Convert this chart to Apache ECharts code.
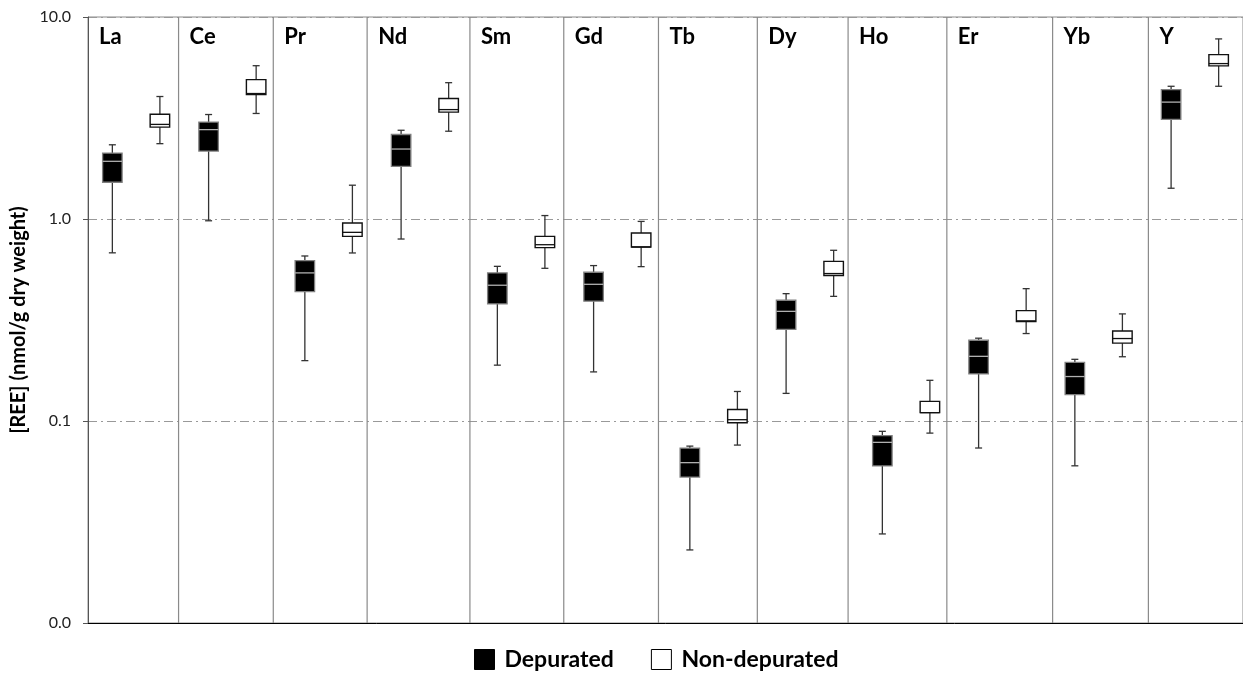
<!DOCTYPE html>
<html>
<head>
<meta charset="utf-8">
<script src="https://cdn.jsdelivr.net/npm/echarts/dist/echarts.min.js"></script>
<style>
  html, body { margin: 0; padding: 0; background: #fff; }
  #chart { width: 1243px; height: 673px; }
</style>
</head>
<body>
<div id="chart"></div>
<script>
// Rare earth elements (one panel each)
const elements = ['La', 'Ce', 'Pr', 'Nd', 'Sm', 'Gd', 'Tb', 'Dy', 'Ho', 'Er', 'Yb', 'Y'];

// [min, Q1, median, Q3, max] in nmol/g dry weight
const depurated = [
  [0.68, 1.52, 1.93, 2.12, 2.33],
  [0.98, 2.17, 2.77, 3.02, 3.29],
  [0.199, 0.437, 0.541, 0.622, 0.656],
  [0.796, 1.82, 2.22, 2.62, 2.75],
  [0.189, 0.38, 0.47, 0.541, 0.583],
  [0.175, 0.392, 0.475, 0.545, 0.588],
  [0.023, 0.0528, 0.0622, 0.0734, 0.0751],
  [0.137, 0.284, 0.349, 0.396, 0.427],
  [0.0276, 0.0599, 0.0784, 0.0846, 0.0889],
  [0.0735, 0.171, 0.209, 0.251, 0.257],
  [0.060, 0.135, 0.166, 0.195, 0.202],
  [1.42, 3.11, 3.79, 4.37, 4.54]
];

const nonDepurated = [
  [2.36, 2.85, 2.94, 3.30, 4.04],
  [3.33, 4.13, 4.18, 4.90, 5.74],
  [0.679, 0.820, 0.859, 0.955, 1.47],
  [2.72, 3.38, 3.48, 3.95, 4.73],
  [0.570, 0.722, 0.746, 0.82, 1.04],
  [0.581, 0.727, 0.727, 0.853, 0.973],
  [0.076, 0.098, 0.1015, 0.114, 0.140],
  [0.414, 0.525, 0.537, 0.617, 0.700],
  [0.0871, 0.110, 0.110, 0.125, 0.159],
  [0.271, 0.311, 0.313, 0.352, 0.452],
  [0.208, 0.243, 0.256, 0.279, 0.339],
  [4.54, 5.73, 5.88, 6.51, 7.79]
];

const seriesNames = ['Depurated', 'Non-depurated'];
const yTickValues = [0.01, 0.1, 1, 10];

// panel divider positions, in category units along the x axis
const dividers = [0.941, 1.925, 2.90, 3.968, 4.943, 5.927, 6.954, 7.897, 8.923, 10.022, 11.017];

const FONT = 'Lato, "Open Sans", "DejaVu Sans", sans-serif';

function boxRenderer(offsetFrac, look) {
  return function (params, api) {
    const idx = api.value(0);
    const band = params.coordSys.width / elements.length;
    const cx = api.coord([idx, 1])[0] + offsetFrac * band;
    const py = d => api.coord([idx, api.value(d)])[1];
    const yMin = py(1), yQ1 = py(2), yMed = py(3), yQ3 = py(4), yMax = py(5);
    const bw = 19.5, cap = 3.5;
    const ws = { stroke: '#333', lineWidth: 1.3 };
    return {
      type: 'group',
      children: [
        { type: 'line', shape: { x1: cx, y1: yQ3, x2: cx, y2: yMax }, style: ws },
        { type: 'line', shape: { x1: cx, y1: yQ1, x2: cx, y2: yMin }, style: ws },
        { type: 'line', shape: { x1: cx - cap, y1: yMax, x2: cx + cap, y2: yMax }, style: ws },
        { type: 'line', shape: { x1: cx - cap, y1: yMin, x2: cx + cap, y2: yMin }, style: ws },
        {
          type: 'rect',
          shape: { x: cx - bw / 2, y: yQ3, width: bw, height: yQ1 - yQ3 },
          style: { fill: look.fill, stroke: look.stroke, lineWidth: look.width }
        },
        {
          type: 'line',
          shape: { x1: cx - bw / 2, y1: yMed, x2: cx + bw / 2, y2: yMed },
          style: { stroke: look.median, lineWidth: 1.3 }
        }
      ]
    };
  };
}

function panelRenderer(params, api) {
  const i = params.dataIndex;
  const x = api.coord([api.value(0), 10])[0];
  const yTop = api.coord([0, 10])[1];
  const yBot = api.coord([0, 0.01])[1];
  const children = [];
  if (i > 0) {
    children.push({
      type: 'line',
      shape: { x1: x, y1: yTop, x2: x, y2: yBot },
      style: { stroke: '#8a8a8a', lineWidth: 1.2 }
    });
  }
  children.push({
    type: 'text',
    x: x + 11,
    y: yTop + 20,
    style: {
      text: elements[i],
      fill: '#000',
      font: 'bold 22px ' + FONT,
      align: 'left',
      verticalAlign: 'middle'
    }
  });
  return { type: 'group', children };
}

const chart = echarts.init(document.getElementById('chart'), null, { renderer: 'canvas' });

chart.setOption({
  animation: false,
  backgroundColor: '#fff',
  grid: {
    left: 88, top: 17, width: 1158, bottom: 50,
    show: true, borderColor: '#8a8a8a', borderWidth: 1, backgroundColor: 'transparent'
  },
  legend: {
    left: 469, top: 643,
    itemWidth: 20, itemHeight: 20, itemGap: 37,
    icon: 'rect',
    textStyle: { fontFamily: FONT, fontWeight: 'bold', fontSize: 23, color: '#000', padding: [0, 0, 0, 5] },
    data: [
      { name: seriesNames[0], itemStyle: { color: '#000', borderColor: '#000', borderWidth: 1 } },
      { name: seriesNames[1], itemStyle: { color: '#fff', borderColor: '#000', borderWidth: 1 } }
    ]
  },
  xAxis: [
    {
      type: 'category',
      data: elements,
      boundaryGap: true,
      axisLine: { show: true, lineStyle: { color: '#000', width: 1 } },
      axisTick: { show: false },
      axisLabel: { show: false },
      splitLine: { show: false }
    },
    {
      type: 'value', min: 0, max: elements.length, show: false
    }
  ],
  yAxis: {
    type: 'log',
    logBase: 10,
    min: yTickValues[0],
    max: yTickValues[yTickValues.length - 1],
    name: '[REE] (nmol/g dry weight)',
    nameLocation: 'middle',
    nameGap: 57,
    nameTextStyle: { fontFamily: FONT, fontWeight: 'bold', fontSize: 20, color: '#000' },
    axisLine: { show: true, lineStyle: { color: '#555', width: 1 } },
    axisTick: { show: true, length: 5, lineStyle: { color: '#555' } },
    axisLabel: {
      fontFamily: FONT, fontSize: 16, color: '#222', margin: 17,
      formatter: v => Number(v).toFixed(1)
    },
    splitLine: {
      show: true,
      lineStyle: { color: '#999', width: 1, type: [9, 4, 2, 4] }
    }
  },
  series: [
    {
      name: 'panels',
      type: 'custom',
      xAxisIndex: 1,
      yAxisIndex: 0,
      silent: true,
      z: 1,
      data: elements.map((e, i) => [i === 0 ? 0 : dividers[i - 1]]),
      encode: { x: 0 },
      renderItem: panelRenderer
    },
    {
      name: seriesNames[0],
      type: 'custom',
      xAxisIndex: 0,
      yAxisIndex: 0,
      z: 3,
      itemStyle: { color: '#000' },
      data: depurated.map((d, i) => [i].concat(d)),
      encode: { x: 0, y: [1, 2, 3, 4, 5] },
      renderItem: boxRenderer(-0.247, { fill: '#000', stroke: '#808080', width: 1.3, median: '#b0b0b0' })
    },
    {
      name: seriesNames[1],
      type: 'custom',
      xAxisIndex: 0,
      yAxisIndex: 0,
      z: 3,
      itemStyle: { color: '#fff', borderColor: '#000' },
      data: nonDepurated.map((d, i) => [i].concat(d)),
      encode: { x: 0, y: [1, 2, 3, 4, 5] },
      renderItem: boxRenderer(0.247, { fill: '#fff', stroke: '#111', width: 1.4, median: '#111' })
    }
  ]
});
</script>
</body>
</html>
